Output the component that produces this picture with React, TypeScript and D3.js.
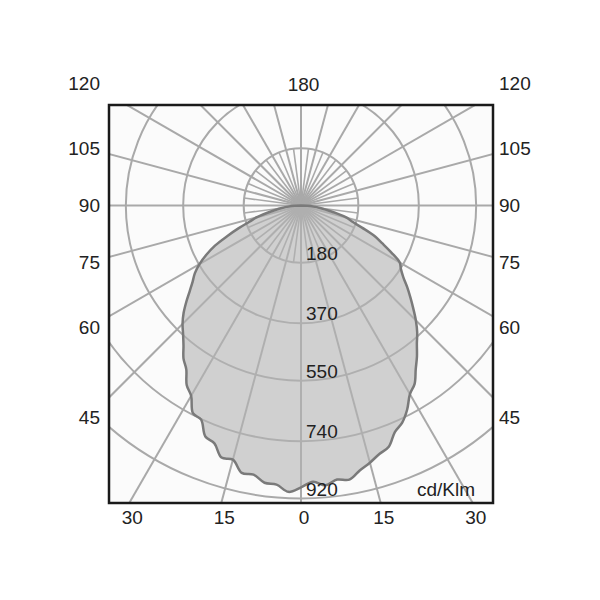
import React from "react";
import * as d3 from "d3";

// ---- data ----
const ringValues = [180, 370, 550, 740, 920];
const sideAngles = [120, 105, 90, 75, 60, 45];
const bottomAngles = [-30, -15, 0, 15, 30];
const topAngleLabel = "180";
const unitLabel = "cd/Klm";
const curveAngles = [
  0, 2.5, 5, 7.5, 10, 12.5, 15, 17.5, 20, 22.5, 25, 27.5, 30, 32.5, 35, 37.5, 40,
  42.5, 45, 47.5, 50, 52.5, 55, 57.5, 60, 62.5, 65, 67.5, 70, 72.5, 75, 77.5, 80,
  82.5, 85, 87.5, 90,
];
const leftIntensity = [
  885, 900, 880, 878, 858, 860, 826, 830, 795, 785, 742, 735, 690, 668, 628, 606,
  574, 548, 526, 500, 470, 440, 415, 395, 368, 335, 298, 250, 208, 170, 145, 112,
  82, 60, 40, 20, 0,
];
const rightIntensity = [
  880, 868, 882, 868, 874, 852, 836, 818, 806, 770, 752, 722, 684, 664, 628, 598,
  566, 540, 510, 478, 448, 420, 392, 372, 358, 320, 282, 250, 205, 168, 150, 115,
  82, 60, 40, 20, 0,
];

// ---- layout ----
const W = 600;
const H = 600;
const box = { left: 109, right: 493, top: 105, bottom: 503 };
const cx = 301;
const cy = 205.5;
const FONT = "'Liberation Sans', Arial, Helvetica, sans-serif";
const FS = 19;

export default function App() {
  const r = d3.scaleLinear().domain([0, 920]).range([0, 293]);
  const rad = (deg: number) => (deg * Math.PI) / 180;

  // polygon: left side from 90 down to 0, then right side 0 to 90
  const pts: [number, number][] = [];
  for (let i = curveAngles.length - 1; i >= 0; i--) {
    pts.push([Math.PI + rad(curveAngles[i]), r(leftIntensity[i])]);
  }
  for (let i = 1; i < curveAngles.length; i++) {
    pts.push([Math.PI - rad(curveAngles[i]), r(rightIntensity[i])]);
  }
  const radial = d3
    .lineRadial<[number, number]>()
    .angle((d) => d[0])
    .radius((d) => d[1])
    .curve(d3.curveCatmullRomClosed);
  const shapePath = radial(pts) || "";

  const majorAngles = d3.range(0, 360, 15);
  const minorAngles = d3.range(7.5, 360, 15);
  const L = 700;
  const innerR = r(ringValues[0]);

  const gridColor = "#a9a9a9";

  const sideY = (deg: number) => {
    const t = rad(deg);
    return cy + (212 * Math.cos(t)) / Math.sin(t);
  };
  const bottomX = (deg: number) =>
    cx + (box.bottom - cy) * Math.tan(rad(deg)) + 3;

  return (
    <svg
      width={W}
      height={H}
      style={{ position: "absolute", left: 0, top: 0, background: "#fff" }}
      fontFamily={FONT}
    >
      <defs>
        <clipPath id="boxclip">
          <rect
            x={box.left}
            y={box.top}
            width={box.right - box.left}
            height={box.bottom - box.top}
          />
        </clipPath>
      </defs>
      <rect
        x={box.left}
        y={box.top}
        width={box.right - box.left}
        height={box.bottom - box.top}
        fill="#fbfbfb"
      />
      <g clipPath="url(#boxclip)">
        <g stroke={gridColor} strokeWidth={2} fill="none">
          {ringValues.map((v) => (
            <circle key={v} cx={cx} cy={cy} r={r(v)} />
          ))}
          {majorAngles.map((a) => (
            <line
              key={"M" + a}
              x1={cx}
              y1={cy}
              x2={cx + L * Math.sin(rad(a))}
              y2={cy + L * Math.cos(rad(a))}
            />
          ))}
          {minorAngles.map((a) => (
            <line
              key={"m" + a}
              x1={cx}
              y1={cy}
              x2={cx + innerR * Math.sin(rad(a))}
              y2={cy + innerR * Math.cos(rad(a))}
              strokeWidth={1.6}
            />
          ))}
        </g>
        <path
          d={shapePath}
          transform={`translate(${cx},${cy})`}
          fill="#b4b4b4"
          fillOpacity={0.6}
          stroke="none"
        />
        <path
          d={shapePath}
          transform={`translate(${cx},${cy})`}
          fill="none"
          stroke="#7a7a7a"
          strokeWidth={2.5}
          strokeLinejoin="round"
        />
        <g fontSize={FS} fill="#222">
          {ringValues.map((v) => (
            <text key={"t" + v} x={cx + 5} y={cy + r(v) - 3}>
              {v}
            </text>
          ))}
          <text x={box.right - 18} y={box.bottom - 7} textAnchor="end">
            {unitLabel}
          </text>
        </g>
      </g>
      <rect
        x={box.left}
        y={box.top}
        width={box.right - box.left}
        height={box.bottom - box.top}
        fill="none"
        stroke="#1a1a1a"
        strokeWidth={2.5}
      />
      <g fontSize={FS} fill="#222">
        {sideAngles.map((a) => (
          <g key={"s" + a}>
            <text
              x={box.left - 9}
              y={sideY(a)}
              textAnchor="end"
              dominantBaseline="central"
            >
              {a}
            </text>
            <text
              x={box.right + 6}
              y={sideY(a)}
              textAnchor="start"
              dominantBaseline="central"
            >
              {a}
            </text>
          </g>
        ))}
        {bottomAngles.map((a, i) => (
          <text
            key={"b" + i}
            x={bottomX(a)}
            y={box.bottom + 14}
            textAnchor="middle"
            dominantBaseline="central"
          >
            {Math.abs(a)}
          </text>
        ))}
        <text
          x={cx + 2.5}
          y={box.top - 21}
          textAnchor="middle"
          dominantBaseline="central"
        >
          {topAngleLabel}
        </text>
      </g>
    </svg>
  );
}
